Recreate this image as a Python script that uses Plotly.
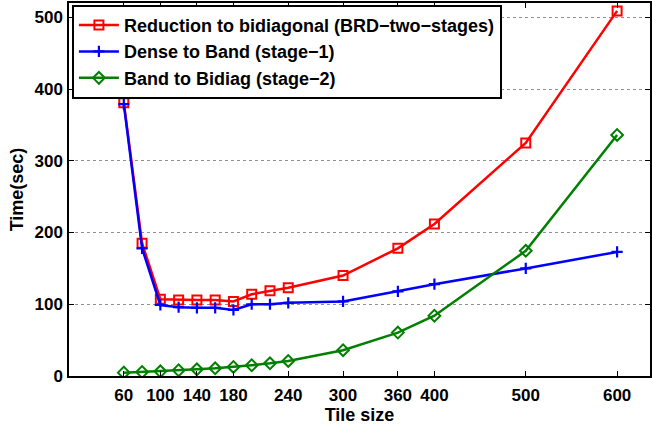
import plotly.graph_objects as go

# Tile sizes tested and timings (seconds)
tile_sizes = [60, 80, 100, 120, 140, 160, 180, 200, 220, 240, 300, 360, 400, 500, 600]
brd_two_stages = [381, 185, 107, 106, 106, 106, 104, 114, 119, 123, 140, 178, 212, 325, 509]
dense_to_band = [379, 178, 99, 96, 95, 95, 92, 100, 100, 102, 104, 118, 128, 150, 173]
band_to_bidiag = [4.7, 5.6, 6.5, 8, 9.3, 10.7, 12.6, 15, 17.7, 21, 36, 60.5, 84, 174.5, 336]

x_ticks = [60, 100, 140, 180, 240, 300, 360, 400, 500, 600]
y_ticks = [0, 100, 200, 300, 400, 500]

FONT = "Liberation Sans, Arial, Helvetica, sans-serif"

fig = go.Figure()

fig.add_trace(go.Scatter(
    x=tile_sizes, y=brd_two_stages, mode="lines+markers",
    name="Reduction to bidiagonal (BRD\u2212two\u2212stages)",
    line=dict(color="#ff0000", width=2.5),
    marker=dict(symbol="square-open", size=9, color="#ff0000",
                line=dict(width=2, color="#ff0000")),
))
fig.add_trace(go.Scatter(
    x=tile_sizes, y=dense_to_band, mode="lines+markers",
    name="Dense to Band (stage\u22121)",
    line=dict(color="#0000ff", width=2.5),
    marker=dict(symbol="cross-thin-open", size=8, color="#0000ff",
                line=dict(width=2.2, color="#0000ff")),
))
fig.add_trace(go.Scatter(
    x=tile_sizes, y=band_to_bidiag, mode="lines+markers",
    name="Band to Bidiag (stage\u22122)",
    line=dict(color="#008000", width=2.5),
    marker=dict(symbol="diamond-open", size=9, color="#008000",
                line=dict(width=2, color="#008000")),
))

fig.update_layout(
    width=652, height=426,
    margin=dict(l=69, r=0, t=3, b=50),
    paper_bgcolor="white", plot_bgcolor="white",
    font=dict(family=FONT, size=17, color="black", weight="bold"),
    showlegend=True,
    legend=dict(
        x=0.005, y=0.995, xanchor="left", yanchor="top",
        bgcolor="white", bordercolor="black", borderwidth=2,
        font=dict(family=FONT, size=18, color="black", weight="bold"),
        itemwidth=40, tracegroupgap=0,
    ),
)

fig.update_xaxes(
    range=[0, 636], tickmode="array", tickvals=x_ticks,
    ticktext=[str(v) for v in x_ticks],
    showgrid=False, zeroline=False,
    showline=True, linecolor="black", linewidth=1.5, mirror="ticks",
    ticks="inside", ticklen=5, tickcolor="black", tickwidth=1,
    tickfont=dict(family=FONT, size=17, color="black", weight="bold"),
    ticklabelstandoff=3,
    title=dict(text="Tile size", standoff=0,
               font=dict(family=FONT, size=18, color="black", weight="bold")),
)
fig.update_yaxes(
    range=[0, 520], tickmode="array", tickvals=y_ticks,
    ticktext=[str(v) for v in y_ticks],
    showgrid=True, gridcolor="#909090", griddash="dot", gridwidth=1,
    zeroline=False,
    showline=True, linecolor="black", linewidth=1.5, mirror="ticks",
    ticks="inside", ticklen=5, tickcolor="black", tickwidth=1,
    tickfont=dict(family=FONT, size=17, color="black", weight="bold"),
    ticklabelstandoff=1,
    title=dict(text="Time(sec)", standoff=6,
               font=dict(family=FONT, size=18, color="black", weight="bold")),
)

fig.write_html("out.html")
